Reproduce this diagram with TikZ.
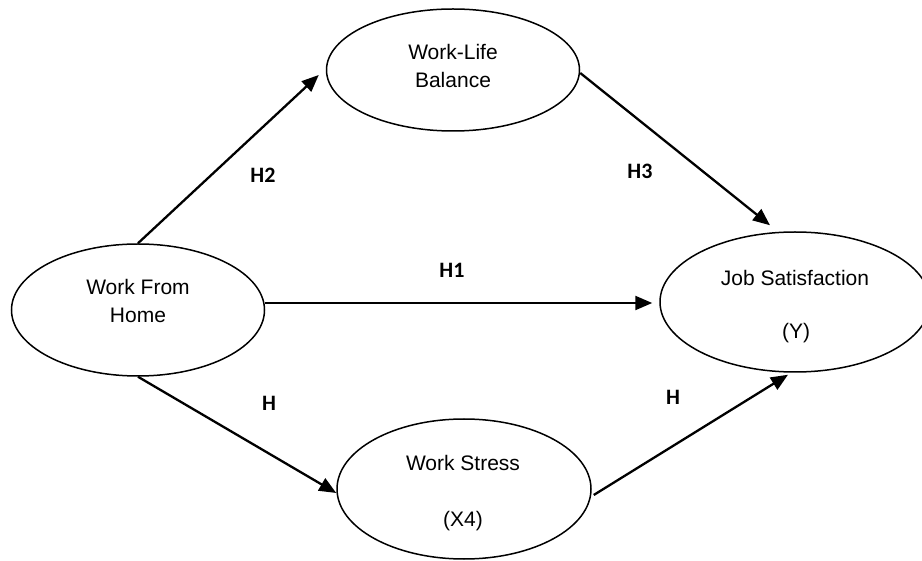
\documentclass[tikz,border=0pt]{standalone}
\usepackage{fontspec}
\setmainfont{Liberation Sans}
\newfontfamily\labfont{Carlito}
\usetikzlibrary{shapes.geometric,arrows.meta}
\begin{document}
\begin{tikzpicture}[x=1pt,y=-1pt,
  construct/.style={draw,ellipse,line width=1.5pt,inner sep=0pt},
  ctext/.style={anchor=base,inner sep=0pt,font=\fontsize{21}{25}\selectfont},
  hlabel/.style={inner sep=0pt,font=\labfont\bfseries\fontsize{22}{26}\selectfont},
  path/.style={line width=2.3pt,-{Triangle[length=17pt,width=14pt]}}]
\useasboundingbox[fill=white] (0,0) rectangle (922,561);
\node[construct,minimum width=253pt,minimum height=122pt] (wlb) at (453,70) {};
\node[construct,minimum width=253pt,minimum height=132pt] (wfh) at (138,310) {};
\node[construct,minimum width=270pt,minimum height=140pt] (js) at (795,302) {};
\node[construct,minimum width=254pt,minimum height=140pt] (ws) at (464,489) {};
\node[ctext] (wlbA) at (453,59.5) {Work-Life};
\node[ctext] (wlbB) at (453,87.5) {Balance};
\node[ctext] (wfhA) at (138,294.5) {Work From};
\node[ctext] (wfhB) at (138,322.5) {Home};
\node[ctext] (jsA) at (795,285.5) {Job Satisfaction};
\node[ctext] (jsB) at (796,339) {(Y)};
\node[ctext] (wsA) at (463,470.5) {Work Stress};
\node[ctext] (wsB) at (463,526) {(X4)};
\draw[path] (wfh.90) -- ([xshift=-7pt,yshift=-5pt]wlb.west);
\draw[path] ([yshift=-3pt]wlb.east) -- ([xshift=-25pt,yshift=6pt]js.north);
\draw[path] ([yshift=7pt]wfh.east) -- ([xshift=-7pt,yshift=-1pt]js.west);
\draw[path] (wfh.south) -- ([yshift=-4pt]ws.west);
\draw[path] ([xshift=2pt,yshift=-6pt]ws.east) -- ([xshift=-7pt,yshift=-2pt]js.south);
\node[hlabel] (h2) at (263,175) {H2};
\node[hlabel] (h3) at (640,171) {H3};
\node[hlabel] (h1) at (452,270) {H1};
\node[hlabel] (h4) at (269,403) {H};
\node[hlabel] (h5) at (673,397) {H};
\end{tikzpicture}
\end{document}
